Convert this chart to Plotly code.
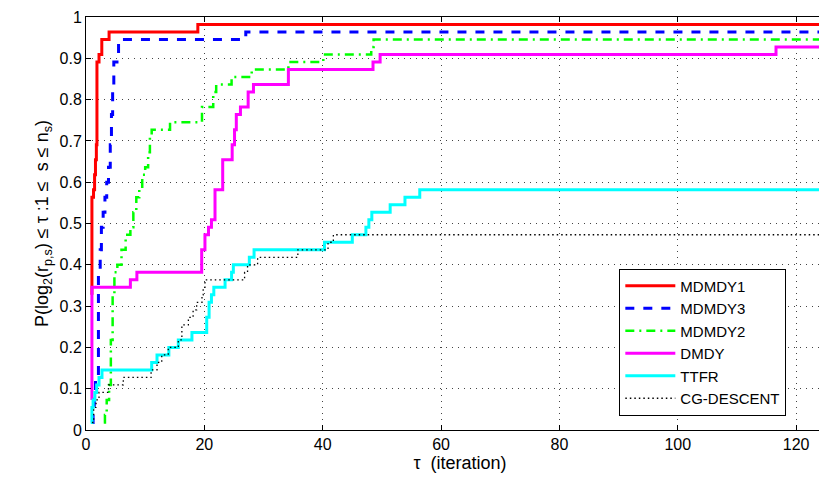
import plotly.graph_objects as go

N_PROBLEMS = 55
X_MAX = 126.4

series_names = ["MDMDY1", "MDMDY3", "MDMDY2", "DMDY", "TTFR", "CG-DESCENT"]

# tau values where each profile steps, and number of problems solved after the step
mdmdy1_tau = [1.0, 1.0, 1.27, 1.45, 1.6, 1.75, 1.85, 2.2, 2.67, 3.9, 18.9, 127]
mdmdy1_solved = [18, 31, 32, 34, 36, 38, 49, 50, 52, 53, 54, 54]

mdmdy3_tau = [1.0, 1.2, 1.4, 1.6, 2.1, 2.4, 2.6, 2.9, 3.2, 3.5, 3.8, 4.1, 4.3, 4.5, 4.7, 5.5, 27.0, 127]
mdmdy3_solved = [1, 3, 5, 7, 21, 24, 27, 29, 31, 33, 35, 38, 42, 46, 49, 52, 53, 53]

mdmdy2_tau = [3.0, 3.2, 3.5, 3.9, 4.2, 4.5, 4.8, 5.3, 6.0, 6.7, 7.5, 8.0, 8.5, 9.0, 9.5, 10.0, 10.5,
              10.8, 11.1, 14.2, 19.6, 21.5, 22.0, 24.6, 28.0, 34.2, 40.1, 48.2, 48.6, 127]
mdmdy2_solved = [1, 2, 4, 6, 12, 18, 21, 22, 24, 26, 27, 29, 31, 32, 34, 35, 37,
                 39, 40, 41, 43, 45, 46, 47, 48, 49, 50, 51, 52, 52]

dmdy_tau = [1.0, 1.0, 7.5, 8.6, 19.55, 20.1, 20.7, 21.2, 21.8, 23.1, 24.7, 25.1, 25.4, 26.1,
            27.4, 28.3, 34.2, 48.5, 49.7, 116.6, 127]
dmdy_solved = [4, 19, 20, 21, 24, 26, 27, 28, 32, 36, 38, 40, 42, 43,
               45, 46, 48, 49, 50, 51, 51]

ttfr_tau = [0.8, 1.0, 1.2, 1.5, 1.8, 2.2, 2.7, 11.1, 12.0, 14.0, 15.6, 17.9, 20.4, 20.8, 21.2,
            21.6, 23.5, 24.6, 24.9, 27.6, 28.4, 40.3, 45.0, 47.3, 47.8, 48.3, 51.4, 53.9, 56.4, 127]
ttfr_solved = [1, 3, 4, 5, 6, 7, 8, 9, 10, 11, 12, 13, 15, 17, 18,
               19, 20, 21, 22, 23, 24, 25, 26, 27, 28, 29, 30, 31, 32, 32]

cg_tau = [1.0, 1.3, 1.7, 2.2, 3.8, 6.3, 11.0, 12.0, 12.8, 13.9, 15.6, 16.2, 17.3, 18.1, 18.7,
          19.6, 19.8, 20.1, 26.8, 27.3, 29.0, 35.8, 40.9, 41.8, 127]
cg_solved = [1, 3, 4, 5, 6, 7, 8, 9, 10, 11, 12, 14, 15, 16, 17,
             18, 19, 20, 21, 22, 23, 24, 25, 26, 26]

x_ticks = [0, 20, 40, 60, 80, 100, 120]
y_ticks = [0, 0.1, 0.2, 0.3, 0.4, 0.5, 0.6, 0.7, 0.8, 0.9, 1]
y_tick_labels = ["0", "0.1", "0.2", "0.3", "0.4", "0.5", "0.6", "0.7", "0.8", "0.9", "1"]

taus = [mdmdy1_tau, mdmdy3_tau, mdmdy2_tau, dmdy_tau, ttfr_tau, cg_tau]
solved = [mdmdy1_solved, mdmdy3_solved, mdmdy2_solved, dmdy_solved, ttfr_solved, cg_solved]
colors = ["#FF0000", "#0000FF", "#00FF00", "#FF00FF", "#00FFFF", "#000000"]
widths = [3, 3, 2.5, 3, 3, 1.3]
dashes = ["solid", "9px,9px", "9px,5px,2px,5px", "solid", "solid", "1.5px,3px"]

FONT = "Liberation Sans, Arial, Helvetica, sans-serif"

fig = go.Figure()
for name, t, s, c, w, d in zip(series_names, taus, solved, colors, widths, dashes):
    fig.add_trace(go.Scatter(
        x=t, y=[v / N_PROBLEMS for v in s], name=name, mode="lines",
        line=dict(color=c, width=w, dash=d, shape="hv"),
    ))

fig.update_layout(
    width=827, height=478,
    margin=dict(l=78, r=1, t=9, b=56),
    paper_bgcolor="white", plot_bgcolor="white",
    font=dict(family=FONT, size=16, color="black"),
    showlegend=True,
    legend=dict(
        x=0.713, y=0.391, xanchor="left", yanchor="top",
        bgcolor="white", bordercolor="black", borderwidth=1,
        font=dict(family=FONT, size=15, color="black"),
        itemwidth=50, tracegroupgap=0,
    ),
)
fig.update_xaxes(
    range=[0, X_MAX], tickvals=x_ticks, ticks="inside", ticklen=5, tickcolor="black",
    showline=True, linecolor="black", linewidth=1, mirror="ticks",
    showgrid=True, gridcolor="#444", gridwidth=1, griddash="1px,5px",
    zeroline=False, automargin=False,
    title=dict(text="τ  (iteration)", font=dict(family=FONT, size=18), standoff=4),
    tickfont=dict(family=FONT, size=16),
)
fig.update_yaxes(
    range=[0, 1], tickvals=y_ticks, ticktext=y_tick_labels,
    ticks="inside", ticklen=5, tickcolor="black",
    showline=True, linecolor="black", linewidth=1,
    showgrid=True, gridcolor="#444", gridwidth=1, griddash="1px,5px",
    zeroline=False, automargin=False,
    title=dict(text="P(log<sub>2</sub>(r<sub>p,s</sub>) ≤ τ :1 ≤  s ≤ n<sub>s</sub>)",
               font=dict(family=FONT, size=18), standoff=6),
    tickfont=dict(family=FONT, size=16),
)

fig.write_html("out.html")
